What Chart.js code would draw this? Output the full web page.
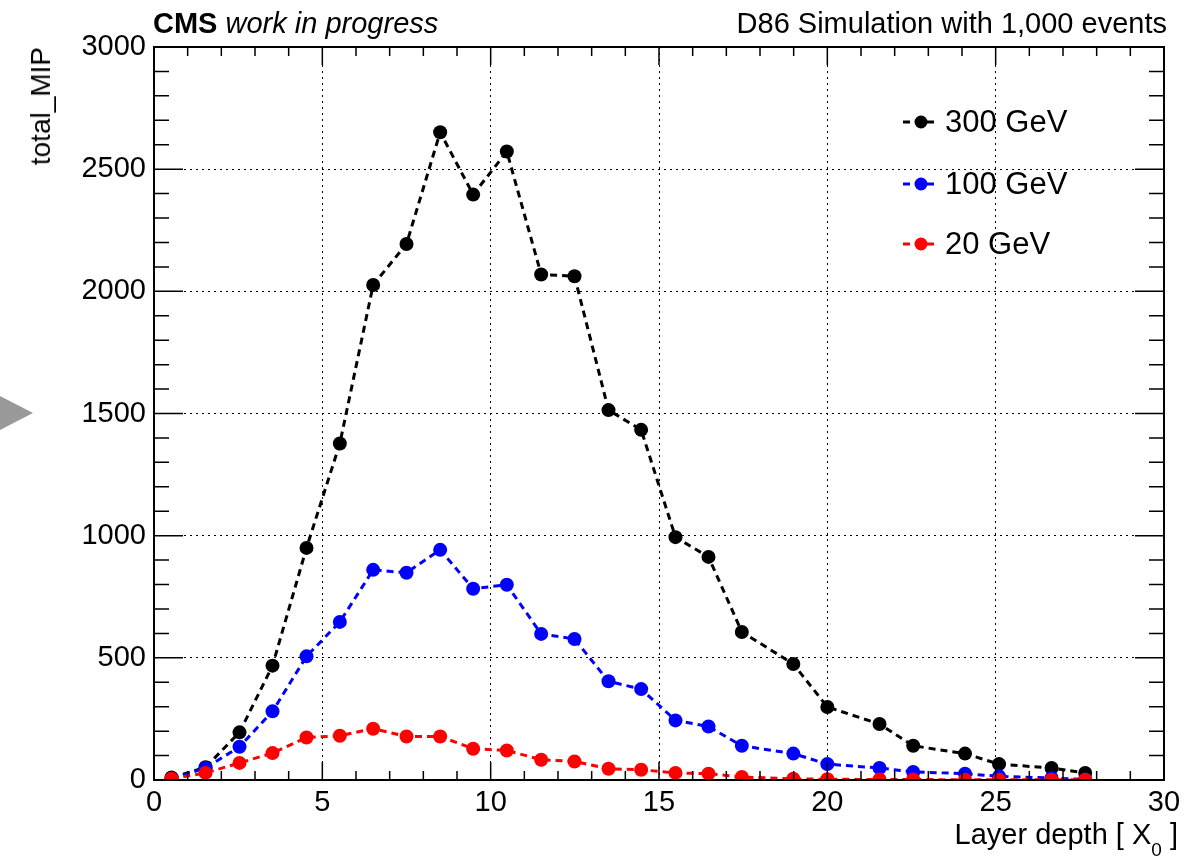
<!DOCTYPE html>
<html lang="en">
<head>
    <meta charset="UTF-8">
    <title>total_MIP vs layer depth</title>
    <script src="https://cdn.jsdelivr.net/npm/chart.js"></script>
    <style>
        body {
            margin: 0;
            background: #fff;
            font-family: "Liberation Sans", Arial, sans-serif;
        }

        #wrap {
            position: relative;
            width: 1203px;
            height: 861px;
        }

        .txt {
            position: absolute;
            color: #000;
            white-space: nowrap;
            line-height: 1;
        }

        #header-left { left: 153px; top: 9px; font-size: 29px; }
        #header-right { right: 36px; top: 9px; font-size: 29px; }

        #ytitle {
            left: 27px;
            top: 47px;
            font-size: 28px;
            writing-mode: vertical-rl;
            transform: rotate(180deg);
        }

        #xtitle { right: 25px; top: 820px; font-size: 29px; }
        #xtitle sub { font-size: 19px; vertical-align: -12px; }

        /* the grey arrow on the left edge */
        #arrow {
            position: absolute;
            left: 0;
            top: 396px;
            width: 0;
            height: 0;
            border-top: 17px solid transparent;
            border-bottom: 17px solid transparent;
            border-left: 33px solid #999;
        }

        .leg {
            position: absolute;
            left: 903px;
            height: 34px;
            display: flex;
            align-items: center;
            font-size: 31px;
        }

        .leg svg { margin-right: 6px; }
    </style>
</head>
<body>
<div id="wrap">
    <canvas id="myChart" width="1203" height="861"></canvas>

    <div class="txt" id="header-left"><b>CMS</b> <i>work in progress</i></div>
    <div class="txt" id="header-right">D86 Simulation with 1,000 events</div>
    <div class="txt" id="ytitle">total_MIP</div>
    <div class="txt" id="xtitle">Layer depth [ X<sub>0</sub> ]</div>
    <div id="arrow"></div>
    <div id="legend"></div>
</div>

<script>
    // layer depth in X0
    var layerDepth = [0.52, 1.53, 2.54, 3.52, 4.53, 5.52, 6.51, 7.5, 8.5, 9.48, 10.48, 11.5, 12.49,
        13.5, 14.47, 15.49, 16.47, 17.46, 18.99, 20.0, 21.55, 22.55, 24.09, 25.1, 26.66, 27.66];

    var mip300 = [10, 52, 195, 468, 950, 1377, 2026, 2194, 2651, 2396, 2572, 2069, 2062,
        1514, 1433, 994, 913, 606, 475, 299, 229, 140, 108, 65, 49, 29];
    var mip100 = [5, 49, 136, 281, 506, 647, 860, 848, 942, 783, 799, 598, 577,
        404, 372, 244, 219, 140, 108, 65, 49, 33, 26, 15, 8, 2];
    var mip20 = [5, 29, 70, 110, 174, 181, 210, 178, 178, 128, 121, 83, 76,
        46, 42, 29, 26, 12, 5, 3, 2, 2, 1, 1, 1, 1];

    var seriesNames = ['300 GeV', '100 GeV', '20 GeV'];
    var seriesColors = ['#000000', '#0000ff', '#ff0000'];

    var xTicks = [0, 5, 10, 15, 20, 25, 30];
    var yTicks = [0, 500, 1000, 1500, 2000, 2500, 3000];

    function toPoints(values) {
        return values.map(function (v, i) { return { x: layerDepth[i], y: v }; });
    }

    function makeDataset(name, values, color) {
        return {
            label: name,
            data: toPoints(values),
            borderColor: color,
            backgroundColor: color,
            borderWidth: 3,
            borderDash: [7, 5],
            pointRadius: 7,
            pointBorderWidth: 0,
            pointBackgroundColor: color,
            fill: false,
            tension: 0
        };
    }

    // ROOT-like frame with ticks pointing inward, on all four sides
    var framePlugin = {
        id: 'frame',
        afterDraw: function (chart) {
            var ctx = chart.ctx;
            var a = chart.chartArea;
            var xs = chart.scales.x;
            var ys = chart.scales.y;
            ctx.save();
            ctx.strokeStyle = '#000';
            ctx.lineWidth = 2;
            ctx.strokeRect(a.left, a.top, a.right - a.left, a.bottom - a.top);

            ctx.lineWidth = 1.5;
            ctx.beginPath();
            for (var i = 0; i <= 30; i++) {
                var px = xs.getPixelForValue(i);
                var len = (i % 5 === 0) ? 18 : 9;
                ctx.moveTo(px, a.bottom); ctx.lineTo(px, a.bottom - len);
                ctx.moveTo(px, a.top); ctx.lineTo(px, a.top + len);
            }
            for (var v = 0; v <= 3000; v += 100) {
                var py = ys.getPixelForValue(v);
                var l = (v % 500 === 0) ? 29 : 15;
                ctx.moveTo(a.left, py); ctx.lineTo(a.left + l, py);
                ctx.moveTo(a.right, py); ctx.lineTo(a.right - l, py);
            }
            ctx.stroke();
            ctx.restore();
        }
    };

    var tickFont = { family: "'Liberation Sans', Arial, sans-serif", size: 29 };

    function plainLabel(value) {
        return String(value);
    }

    var ctx = document.getElementById('myChart').getContext('2d');
    var myChart = new Chart(ctx, {
        type: 'line',
        data: {
            // 20 GeV first so it is drawn on top
            datasets: [
                makeDataset(seriesNames[2], mip20, seriesColors[2]),
                makeDataset(seriesNames[1], mip100, seriesColors[1]),
                makeDataset(seriesNames[0], mip300, seriesColors[0])
            ]
        },
        options: {
            responsive: false,
            animation: false,
            devicePixelRatio: 1,
            layout: { padding: { left: 0, top: 47, right: 39, bottom: 0 } },
            plugins: {
                legend: { display: false },
                tooltip: { enabled: false }
            },
            scales: {
                x: {
                    type: 'linear',
                    min: 0,
                    max: 30,
                    afterBuildTicks: function (scale) {
                        scale.ticks = xTicks.map(function (t) { return { value: t }; });
                    },
                    afterFit: function (scale) { scale.height = 81; },
                    ticks: { color: '#000', font: tickFont, padding: 6, maxRotation: 0, callback: plainLabel },
                    grid: { color: '#000', lineWidth: 1, drawTicks: false },
                    border: { display: false, dash: [2, 4] }
                },
                y: {
                    min: 0,
                    max: 3000,
                    afterBuildTicks: function (scale) {
                        scale.ticks = yTicks.map(function (t) { return { value: t }; });
                    },
                    afterFit: function (scale) { scale.width = 154; },
                    ticks: { color: '#000', font: tickFont, padding: 8, callback: plainLabel },
                    grid: { color: '#000', lineWidth: 1, drawTicks: false },
                    border: { display: false, dash: [2, 4] }
                }
            }
        },
        plugins: [framePlugin]
    });

    // legend rows built from the series names and colours
    var legendTops = [105, 167, 227];
    var legend = document.getElementById('legend');
    seriesNames.forEach(function (name, i) {
        var row = document.createElement('div');
        row.className = 'leg';
        row.style.top = legendTops[i] + 'px';
        var c = seriesColors[i];
        row.innerHTML = '<svg width="36" height="16"><line x1="0" y1="8" x2="36" y2="8" stroke="' + c +
            '" stroke-width="3" stroke-dasharray="7,5"/><circle cx="18" cy="8" r="6.5" fill="' + c + '"/></svg>' +
            '<span>' + name + '</span>';
        legend.appendChild(row);
    });
</script>
</body>
</html>
